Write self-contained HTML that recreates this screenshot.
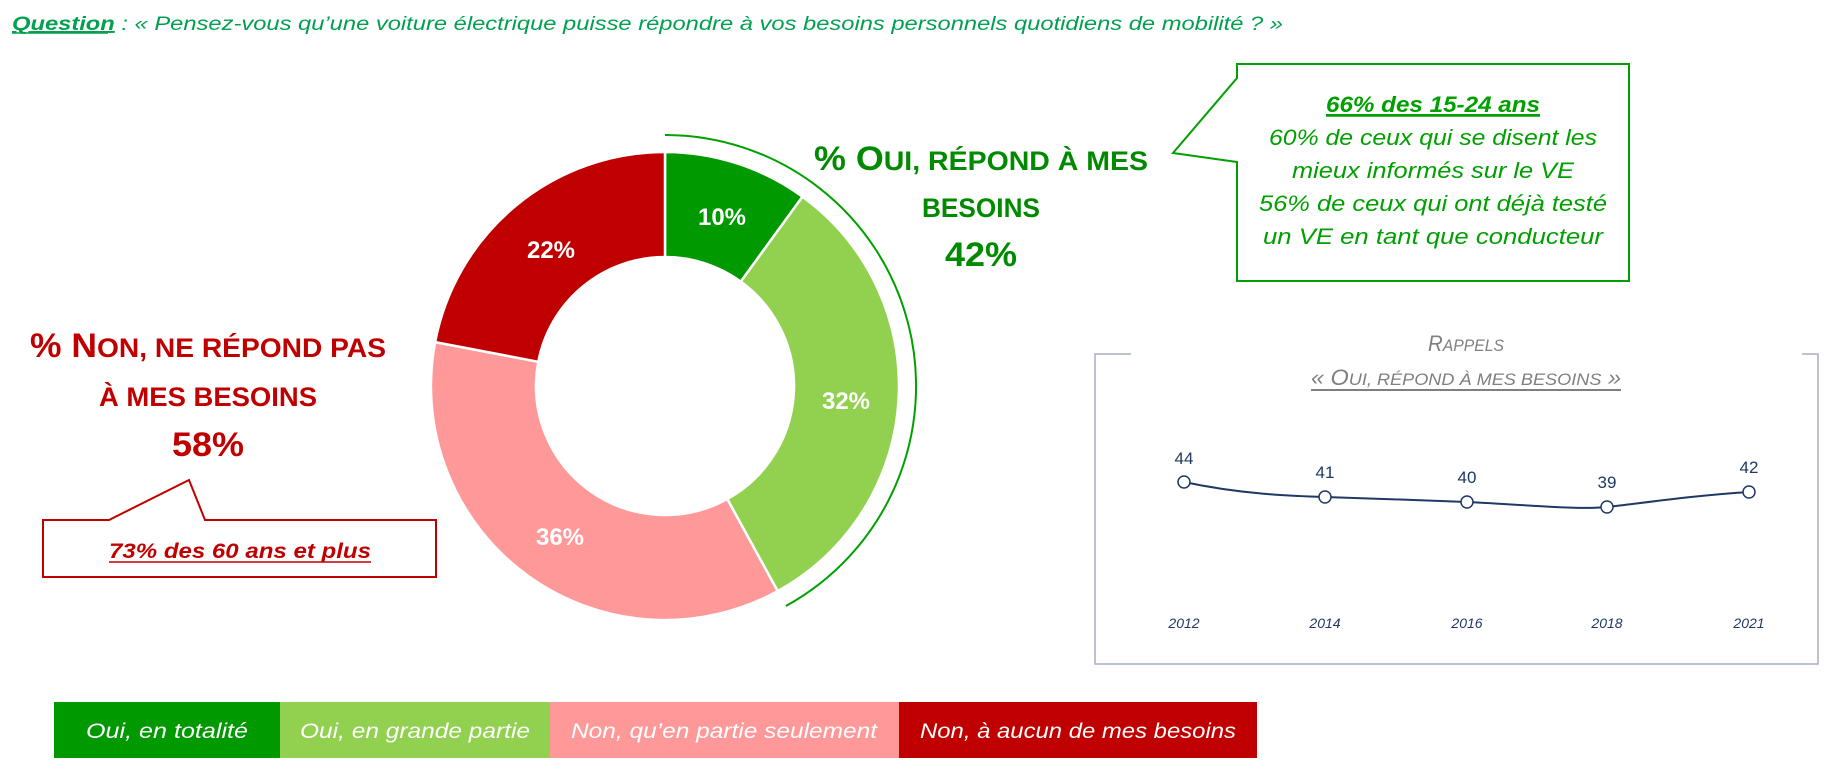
<!DOCTYPE html>
<html><head><meta charset="utf-8"><style>
html,body{margin:0;padding:0;background:#fff;}
svg{display:block;}
text{font-family:"Liberation Sans",sans-serif;}
</style></head><body>
<svg width="1834" height="772" viewBox="0 0 1834 772" xmlns="http://www.w3.org/2000/svg">
<!-- question -->
<text x="12" y="30" font-size="19" font-style="italic" fill="#00A050" textLength="1271" lengthAdjust="spacingAndGlyphs"><tspan text-decoration="underline" font-weight="bold">Question</tspan> : « Pensez-vous qu’une voiture électrique puisse répondre à vos besoins personnels quotidiens de mobilité ? »</text>
<line x1="12" y1="33" x2="108" y2="33" stroke="#00A050" stroke-width="1.5"/>

<!-- donut -->
<g stroke="#fff" stroke-width="2.5">
<path d="M665,152 A234,234 0 0 1 802.5,196.7 L740.8,281.6 A129,129 0 0 0 665,257 Z" fill="#009900"/>
<path d="M802.5,196.7 A234,234 0 0 1 777.7,591.1 L727.2,499.0 A129,129 0 0 0 740.8,281.6 Z" fill="#92D050"/>
<path d="M777.7,591.1 A234,234 0 0 1 435.1,342.1 L538.3,361.8 A129,129 0 0 0 727.2,499.0 Z" fill="#FF9999"/>
<path d="M435.1,342.1 A234,234 0 0 1 665,152 L665,257 A129,129 0 0 0 538.3,361.8 Z" fill="#C00000"/>
</g>
<path d="M665,135 A251,251 0 0 1 785.9,606" fill="none" stroke="#00A000" stroke-width="2"/>
<g font-size="24" font-weight="bold" fill="#fff" text-anchor="middle">
<text x="722" y="225" textLength="48" lengthAdjust="spacingAndGlyphs">10%</text>
<text x="846" y="409" textLength="48" lengthAdjust="spacingAndGlyphs">32%</text>
<text x="560" y="545" textLength="48" lengthAdjust="spacingAndGlyphs">36%</text>
<text x="551" y="258" textLength="48" lengthAdjust="spacingAndGlyphs">22%</text>
</g>

<!-- OUI label -->
<g fill="#008A00" font-weight="bold" text-anchor="middle">
<text x="981" y="170" font-size="34" textLength="334" lengthAdjust="spacingAndGlyphs">% O<tspan font-size="27">UI, RÉPOND À MES</tspan></text>
<text x="981" y="217" font-size="27" textLength="118" lengthAdjust="spacingAndGlyphs">BESOINS</text>
<text x="981" y="266" font-size="34" textLength="72" lengthAdjust="spacingAndGlyphs">42%</text>
</g>

<!-- green callout -->
<path d="M1237,64 L1629,64 L1629,281 L1237,281 L1237,162 L1173,153 L1237,78 Z" fill="#fff" stroke="#00A000" stroke-width="2"/>
<g fill="#00A000" font-size="22" font-style="italic" text-anchor="middle">
<text x="1433" y="112" font-weight="bold" text-decoration="underline" textLength="214" lengthAdjust="spacingAndGlyphs">66% des 15-24 ans</text>
<line x1="1326" y1="116" x2="1540" y2="116" stroke="#00A000" stroke-width="1.5"/>
<text x="1433" y="145" textLength="328" lengthAdjust="spacingAndGlyphs">60% de ceux qui se disent les</text>
<text x="1433" y="178" textLength="282" lengthAdjust="spacingAndGlyphs">mieux informés sur le VE</text>
<text x="1433" y="211" textLength="348" lengthAdjust="spacingAndGlyphs">56% de ceux qui ont déjà testé</text>
<text x="1433" y="244" textLength="340" lengthAdjust="spacingAndGlyphs">un VE en tant que conducteur</text>
</g>

<!-- NON label -->
<g fill="#C00000" font-weight="bold" text-anchor="middle">
<text x="208" y="357" font-size="34" textLength="356" lengthAdjust="spacingAndGlyphs">% N<tspan font-size="27">ON, NE RÉPOND PAS</tspan></text>
<text x="208" y="406" font-size="27" textLength="218" lengthAdjust="spacingAndGlyphs">À MES BESOINS</text>
<text x="208" y="456" font-size="34" textLength="72" lengthAdjust="spacingAndGlyphs">58%</text>
</g>

<!-- red callout -->
<path d="M43,520 L109,520 L189,480 L205,520 L436,520 L436,577 L43,577 Z" fill="#fff" stroke="#C00000" stroke-width="2"/>
<text x="240" y="558" font-size="21" font-style="italic" font-weight="bold" fill="#C00000" text-anchor="middle" textLength="262" lengthAdjust="spacingAndGlyphs">73% des 60 ans et plus</text>
<line x1="109" y1="562" x2="371" y2="562" stroke="#C00000" stroke-width="1.5"/>

<!-- rappels box -->
<path d="M1131,354 L1095,354 L1095,664 L1818,664 L1818,354 L1802,354" fill="none" stroke="#A6AEBF" stroke-width="1.5"/>
<g fill="#7F7F7F" font-style="italic" text-anchor="middle">
<text x="1466" y="351" font-size="22" textLength="76" lengthAdjust="spacingAndGlyphs">R<tspan font-size="17">APPELS</tspan></text>
<text x="1466" y="385" font-size="22" textLength="310" lengthAdjust="spacingAndGlyphs">« O<tspan font-size="17">UI, RÉPOND À MES BESOINS</tspan> »</text>
</g>
<line x1="1311" y1="390" x2="1621" y2="390" stroke="#7F7F7F" stroke-width="2"/>
<path d="M1184,482 C1240,494 1290,496 1325,497 C1380,499 1420,500 1467,502 C1530,505 1580,510 1607,507 C1650,502 1700,495 1749,492" fill="none" stroke="#1F3864" stroke-width="2"/>
<g fill="#fff" stroke="#1F3864" stroke-width="1.5">
<circle cx="1184" cy="482" r="6"/><circle cx="1325" cy="497" r="6"/><circle cx="1467" cy="502" r="6"/><circle cx="1607" cy="507" r="6"/><circle cx="1749" cy="492" r="6"/>
</g>
<g fill="#1F3864" font-size="17" text-anchor="middle">
<text x="1184" y="464">44</text><text x="1325" y="478">41</text><text x="1467" y="483">40</text><text x="1607" y="488">39</text><text x="1749" y="473">42</text>
</g>
<g fill="#1F3864" font-size="14" font-style="italic" text-anchor="middle">
<text x="1184" y="628">2012</text><text x="1325" y="628">2014</text><text x="1467" y="628">2016</text><text x="1607" y="628">2018</text><text x="1749" y="628">2021</text>
</g>

<!-- legend -->
<rect x="54" y="702" width="226" height="56" fill="#009900"/>
<rect x="280" y="702" width="270" height="56" fill="#92D050"/>
<rect x="550" y="702" width="349" height="56" fill="#FF9999"/>
<rect x="899" y="702" width="358" height="56" fill="#C00000"/>
<g fill="#fff" font-size="21" font-style="italic" text-anchor="middle">
<text x="167" y="738" textLength="162" lengthAdjust="spacingAndGlyphs">Oui, en totalité</text>
<text x="415" y="738" textLength="230" lengthAdjust="spacingAndGlyphs">Oui, en grande partie</text>
<text x="724" y="738" textLength="306" lengthAdjust="spacingAndGlyphs">Non, qu’en partie seulement</text>
<text x="1078" y="738" textLength="316" lengthAdjust="spacingAndGlyphs">Non, à aucun de mes besoins</text>
</g>
</svg>
</body></html>
